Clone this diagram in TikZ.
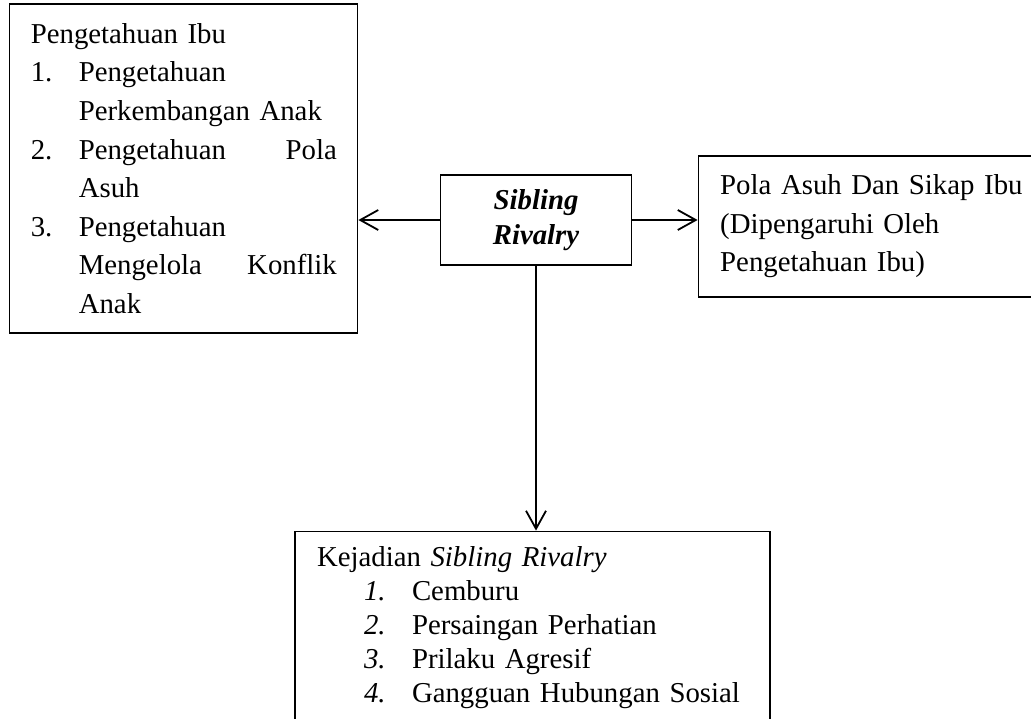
\documentclass[tikz,border=0pt]{standalone}
\usepackage{fontspec}
\setmainfont{Liberation Serif}
\usepackage{tikz}
\usetikzlibrary{arrows.meta,positioning}
\tikzset{
every picture/.style={
line width=0.6pt
}}

\begin{document}
\begin{tikzpicture}[->,>={Straight Barb[length=9pt,width=10pt]},x=0.5pt,y=-0.5pt,
  box/.style={draw,rectangle,inner ysep=0pt,font=\fontsize{14.4pt}{19.3pt}\selectfont},
  link/.style={line width=0.9pt}]

\useasboundingbox (0,0) rectangle (1031,718);

\node[box, text width=75.5pt, inner xsep=10pt, minimum height=45pt, align=center,
  font=\fontsize{14.4pt}{17.5pt}\selectfont\bfseries\itshape] (rival) at (536,220) {Sibling\\Rivalry};

\node[box, text width=153pt, inner xsep=10.5pt, minimum height=164.5pt, align=left,
  left=40.75pt of rival, yshift=25.75pt] (ibu) {Pengetahuan Ibu\\
\makebox[24pt][l]{1.}Pengetahuan\\
\hspace*{24pt}Perkembangan Anak\\
\makebox[24pt][l]{2.}Pengetahuan\hfill Pola\\
\hspace*{24pt}Asuh\\
\makebox[24pt][l]{3.}Pengetahuan\\
\hspace*{24pt}Mengelola\hfill Konflik\\
\hspace*{24pt}Anak};

\node[box, text width=152pt, inner xsep=11pt, minimum height=70.5pt, align=left,
  right=32.75pt of rival, yshift=-3.25pt] (pola) {Pola Asuh Dan Sikap Ibu\\
(Dipengaruhi Oleh\\
Pengetahuan Ibu)};

\node[box, text width=215.5pt, inner xsep=11pt, inner ysep=7.5pt, align=left,
  font=\fontsize{14.4pt}{17.1pt}\selectfont,
  below=132.5pt of rival, xshift=-1.75pt] (kejadian) {Kejadian \textit{Sibling Rivalry}\\
\hspace*{23.5pt}\makebox[24pt][l]{\textit{1.}}Cemburu\\
\hspace*{23.5pt}\makebox[24pt][l]{\textit{2.}}Persaingan Perhatian\\
\hspace*{23.5pt}\makebox[24pt][l]{\textit{3.}}Prilaku Agresif\\
\hspace*{23.5pt}\makebox[24pt][l]{\textit{4.}}Gangguan Hubungan Sosial\rule[-12pt]{0pt}{1pt}};

\path[link] (rival.west) edge (rival.west -| ibu.east)
 (rival.east) edge (rival.east -| pola.west)
 (rival.south) edge (rival.south |- kejadian.north);
\end{tikzpicture}
\end{document}
